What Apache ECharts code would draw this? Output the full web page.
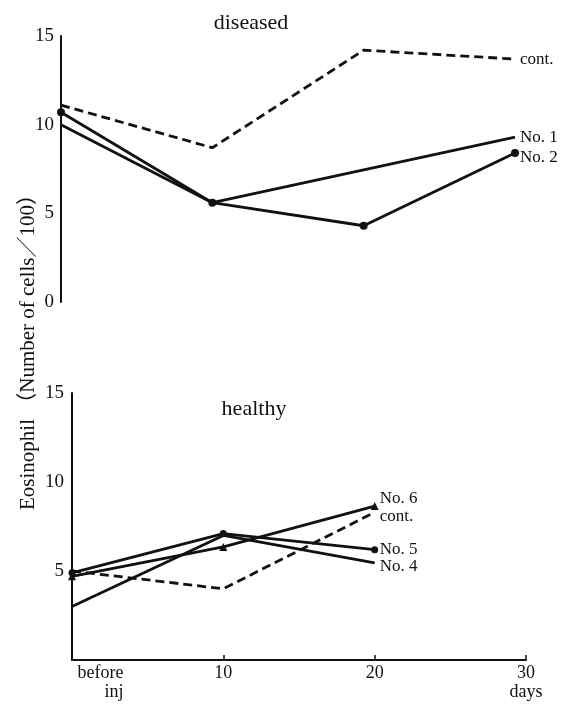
<!DOCTYPE html>
<html>
<head>
<meta charset="utf-8">
<script src="https://cdn.jsdelivr.net/npm/echarts@6/dist/echarts.min.js"></script>
<style>html,body{margin:0;padding:0;background:#fff;}#c{width:563px;height:704px;}</style>
</head>
<body>
<div id="c"></div>
<script>
// ---- data ----
const tickValues = [0, 10, 20, 30];
const tickLabels = ['before\ninj', '10', '20', '30\ndays'];
const yTicks = [0, 5, 10, 15];

// diseased panel
const dContDays = [0, 10, 20, 30];
const dContVals = [11.1, 8.7, 14.2, 13.7];
const dNo1Days = [0, 10, 30];
const dNo1Vals = [10.0, 5.6, 9.3];
const dNo2Days = [0, 10, 20, 30];
const dNo2Vals = [10.7, 5.6, 4.3, 8.4];

// healthy panel
const hDays = [0, 10, 20];
const hNo6Vals = [4.7, 6.35, 8.65];
const hContVals = [5.0, 4.0, 8.3];
const hNo5Vals = [4.9, 7.1, 6.2];
const hNo4Vals = [3.0, 7.0, 5.45];

const panelTitles = ['diseased', 'healthy'];
const yAxisName = 'Eosinophil （Number of cells／100）';

// ---- chart ----
const FF = "'Liberation Serif', 'Noto Sans CJK JP', serif";
const INK = '#111';
const LW = 2.8;
const pairs = (xs, ys) => xs.map((x, i) => [x, ys[i]]);
const endLbl = (text, dy) => ({ show: true, formatter: text, distance: 5, fontSize: 17, fontFamily: FF, color: INK, offset: [0, dy] });

function lineSeries(name, label, xi, data, opts) {
  return Object.assign({
    type: 'line', name: name, xAxisIndex: xi, yAxisIndex: xi,
    data: data, symbol: 'none', symbolSize: 8, silent: true,
    itemStyle: { color: INK },
    lineStyle: { color: INK, width: LW, type: 'solid' },
    endLabel: endLbl(label, 0),
    animation: false
  }, opts || {});
}

const chart = echarts.init(document.getElementById('c'), null, { renderer: 'canvas' });
const yAxisBase = (gi, hideZero, margin) => ({
  type: 'value', gridIndex: gi, min: 0, max: 15, interval: 5,
  axisLine: { show: true, onZero: false, lineStyle: { color: INK, width: 2 } },
  axisTick: { show: false },
  splitLine: { show: false },
  axisLabel: {
    fontSize: 19, fontFamily: FF, color: INK, margin: margin,
    formatter: v => (hideZero && v === 0) ? '' : String(yTicks[yTicks.indexOf(v)])
  }
});

chart.setOption({
  backgroundColor: '#fff',
  animation: false,
  grid: [
    { left: 61, right: 48, top: 36, bottom: 402 },
    { left: 72, right: 37, top: 393, bottom: 44 }
  ],
  xAxis: [
    { type: 'value', gridIndex: 0, min: 0, max: 30, interval: 10,
      axisLine: { show: false }, axisTick: { show: false }, axisLabel: { show: false }, splitLine: { show: false } },
    { type: 'value', gridIndex: 1, min: 0, max: 30, interval: 10,
      axisLine: { show: true, onZero: false, lineStyle: { color: INK, width: 2 } },
      axisTick: { show: true, inside: true, length: 5, lineStyle: { color: INK, width: 1.5 } },
      splitLine: { show: false },
      axisLabel: {
        showMinLabel: true, showMaxLabel: true, margin: 4,
        fontSize: 18, fontFamily: FF, color: INK, lineHeight: 19,
        formatter: function (v) {
          const t = tickLabels[tickValues.indexOf(v)];
          if (v === 0) {
            const parts = t.split('\n');
            return '{a|' + parts[0] + '}\n{b|' + parts[1] + '}';
          }
          return t;
        },
        rich: {
          a: { fontSize: 18, fontFamily: FF, color: INK, lineHeight: 19, padding: [0, 0, 0, 57] },
          b: { fontSize: 18, fontFamily: FF, color: INK, lineHeight: 19, align: 'right' }
        }
      } }
  ],
  yAxis: [ yAxisBase(0, false, 7), yAxisBase(1, true, 8) ],
  graphic: [
    { type: 'text', x: 251, y: 23, silent: true,
      style: { text: panelTitles[0], fontSize: 22, fontFamily: FF, fill: INK, align: 'center', verticalAlign: 'middle' } },
    { type: 'text', x: 254, y: 409, silent: true,
      style: { text: panelTitles[1], fontSize: 22, fontFamily: FF, fill: INK, align: 'center', verticalAlign: 'middle' } },
    { type: 'text', x: 28, y: 347, rotation: Math.PI / 2, silent: true,
      style: { text: yAxisName, fontSize: 21, fontFamily: FF, fill: INK, align: 'center', verticalAlign: 'middle' } }
  ],
  series: [
    lineSeries('d-cont', 'cont.', 0, pairs(dContDays, dContVals),
      { lineStyle: { color: INK, width: LW, type: [9, 5] } }),
    lineSeries('d-no1', 'No. 1', 0, pairs(dNo1Days, dNo1Vals)),
    lineSeries('d-no2', 'No. 2', 0, pairs(dNo2Days, dNo2Vals),
      { symbol: 'circle', symbolSize: 8, endLabel: endLbl('No. 2', 4) }),
    lineSeries('h-no6', 'No. 6', 1, pairs(hDays, hNo6Vals),
      { symbol: 'triangle', symbolSize: 8, endLabel: endLbl('No. 6', -7) }),
    lineSeries('h-cont', 'cont.', 1, pairs(hDays, hContVals),
      { lineStyle: { color: INK, width: LW, type: [9, 5] }, endLabel: endLbl('cont.', 4) }),
    lineSeries('h-no5', 'No. 5', 1, pairs(hDays, hNo5Vals),
      { symbol: 'circle', symbolSize: 7 }),
    lineSeries('h-no4', 'No. 4', 1, pairs(hDays, hNo4Vals),
      { endLabel: endLbl('No. 4', 4) })
  ]
});
</script>
</body>
</html>
